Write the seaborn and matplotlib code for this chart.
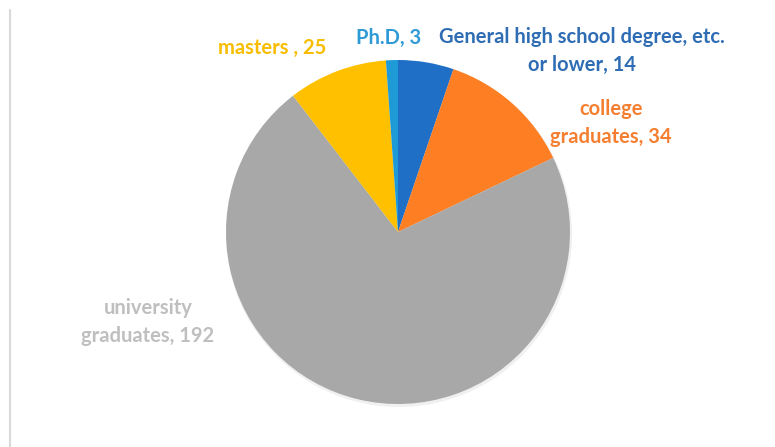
import matplotlib
matplotlib.use("Agg")
import matplotlib.pyplot as plt
import seaborn as sns

categories = ["General high school degree, etc.\nor lower", "college\ngraduates",
              "university\ngraduates", "masters ", "Ph.D"]
counts = [14, 34, 192, 25, 3]
colors = ["#1f6fc6", "#fd7e23", "#a8a8a8", "#ffc000", "#1e9ad6"]
label_colors = ["#2e6db4", "#f57f30", "#bfbfbf", "#f7bd00", "#2e9ad6"]

sns.set_theme(style="white")
plt.rcParams["font.family"] = ["Lato", "DejaVu Sans"]

fig = plt.figure(figsize=(7.75, 4.47), dpi=100)
ax = fig.add_axes([0, 0, 1, 1])

# soft shadow under the pie
ax.pie([1], colors=["#f0f0f0"], center=(399, 213), radius=173,
       wedgeprops={"linewidth": 0}, frame=True)
ax.pie(counts, colors=colors, startangle=90, counterclock=False,
       center=(398, 215), radius=172, wedgeprops={"linewidth": 0}, frame=True)
ax.set_xlim(0, 775)
ax.set_ylim(0, 447)
ax.axis("off")

label_pos = [(582, 396), (611, 324), (148, 125), (272, 399), (389, 409)]
for cat, n, c, (x, y) in zip(categories, counts, label_colors, label_pos):
    ax.text(x, y, f"{cat}, {n}", ha="center", va="center", color=c,
            fontsize=14.5, fontweight="bold", linespacing=1.5)

ax.plot([10, 10], [0, 437], color="#d9d9d9", lw=1.5)

fig.savefig("out.png", dpi=100)
